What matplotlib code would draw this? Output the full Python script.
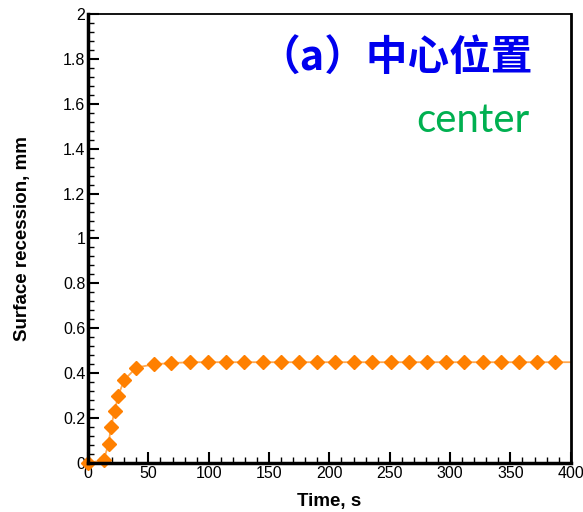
import matplotlib
matplotlib.use("Agg")
import matplotlib.pyplot as plt
from matplotlib.ticker import MultipleLocator

# Surface recession at the center location versus time
time_s = [0, 13, 17, 19, 22, 25, 30, 40, 55, 69, 84.5, 99.5, 114.5, 129.5, 145, 160, 175, 190,
          205, 220.5, 235.5, 251, 266, 281, 296.5, 311.5, 327, 342, 357, 372, 387]
recession_mm = [0.0, 0.013, 0.085, 0.16, 0.23, 0.30, 0.37, 0.425, 0.44, 0.445, 0.449, 0.449,
                0.449, 0.449, 0.449, 0.449, 0.449, 0.449, 0.449, 0.449, 0.449, 0.449, 0.449,
                0.449, 0.449, 0.449, 0.449, 0.449, 0.449, 0.449, 0.449]
# Continuous curve extends to the end of the time window
curve_t = time_s + [400]
curve_y = recession_mm + [0.449]

x_ticks = [0, 50, 100, 150, 200, 250, 300, 350, 400]
y_ticks = [0, 0.2, 0.4, 0.6, 0.8, 1, 1.2, 1.4, 1.6, 1.8, 2]
y_tick_labels = ["0", "0.2", "0.4", "0.6", "0.8", "1", "1.2", "1.4", "1.6", "1.8", "2"]

plt.rcParams["font.family"] = ["Liberation Sans", "DejaVu Sans"]

fig = plt.figure(figsize=(5.83, 5.12), dpi=100)
ax = fig.add_axes([0.151, 0.0957, 0.828, 0.877])

ax.plot(curve_t, curve_y, color="#FFA850", lw=1.3, zorder=2)
ax.plot(time_s, recession_mm, linestyle="none", marker="D", ms=7.0,
        color="#FF8000", mec="#FF8000", zorder=3, clip_on=False)

ax.set_xlim(0, 400)
ax.set_ylim(0, 2)
ax.set_xticks(x_ticks)
ax.set_xticklabels([str(v) for v in x_ticks])
ax.set_yticks(y_ticks)
ax.set_yticklabels(y_tick_labels)
ax.xaxis.set_minor_locator(MultipleLocator(10))
ax.yaxis.set_minor_locator(MultipleLocator(0.04))

ax.tick_params(which="major", direction="in", length=8, width=1.5,
               labelsize=11.5, top=False, right=False, pad=2)
ax.tick_params(which="minor", direction="in", length=4, width=1,
               top=False, right=False)

ax.spines["left"].set_linewidth(2.5)
ax.spines["bottom"].set_linewidth(2.5)
ax.spines["right"].set_linewidth(2)
ax.spines["top"].set_linewidth(1.3)
for s in ax.spines.values():
    s.set_zorder(4)

ax.set_xlabel("Time, s", fontsize=13.5, fontweight="bold", labelpad=9)
ax.set_ylabel("Surface recession, mm", fontsize=13.5, fontweight="bold")
ax.yaxis.set_label_coords(-0.118, 0.5)

fig.text(0.914, 0.885, "（a）中心位置", color="#0000EE", fontsize=30, fontweight="bold",
         family=["Noto Sans CJK SC", "DejaVu Sans"], ha="right", va="center")
fig.text(0.908, 0.743, "center", color="#00B050", fontsize=29,
         family=["Lato", "DejaVu Sans"], ha="right", va="baseline")

fig.savefig("out.png", dpi=100)
